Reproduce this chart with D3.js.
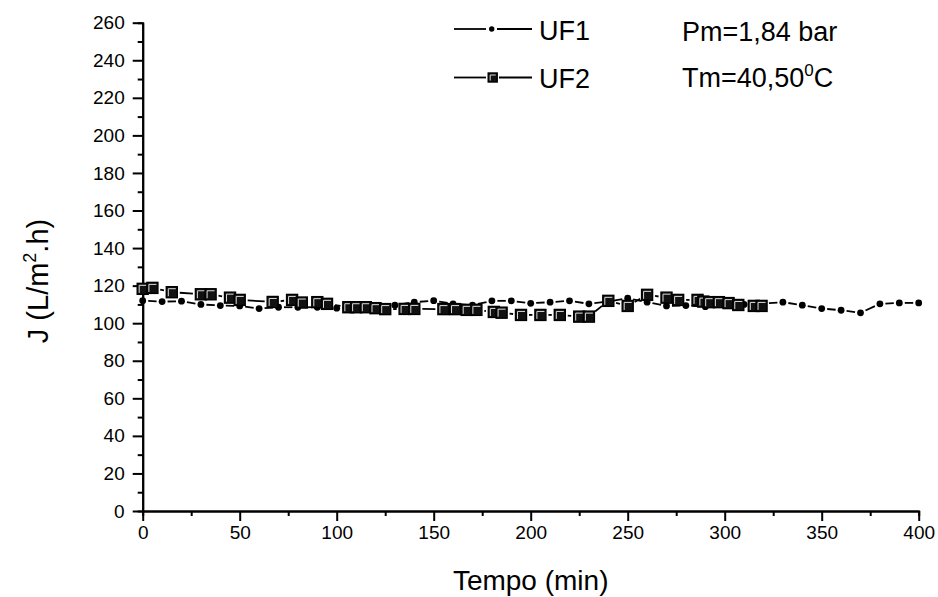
<!DOCTYPE html>
<html>
<head>
<meta charset="utf-8">
<script src="https://cdn.jsdelivr.net/npm/d3@7"></script>
<style>
    body { margin: 0; background: #fff; }
    text { font-family: "Liberation Sans", Arial, sans-serif; fill: #000; }
</style>
</head>
<body>
<svg id="graph"></svg>
<script>
// data
const uf1Time = [0, 10, 20, 30, 40, 50, 60, 70, 80, 90, 100, 110, 120, 130, 140, 150, 160, 170, 180, 190,
    200, 210, 220, 230, 240, 250, 260, 270, 280, 290, 300, 310, 320, 330, 340, 350, 360, 370, 380, 390, 400];
const uf1Flux = [112, 111.5, 111.7, 110, 109.4, 109.2, 107.8, 108.5, 108.5, 108.5, 108, 108.5, 109, 109.6, 111.2, 112, 110.3, 109.6, 111.9, 111.9,
    110.6, 111.2, 111.9, 110.3, 111.5, 113.3, 111.2, 109.2, 109.4, 108.8, 109.5, 110, 110.5, 111.2, 109.6, 107.8, 106.9, 105.5, 110.3, 110.8, 110.8];

const uf2Time = [0, 5, 15, 30, 35, 45, 50, 67, 77, 82, 90, 95, 106, 110, 115, 120, 125, 135, 140, 155, 161, 167, 172, 181, 185,
    195, 205, 215, 225, 230, 240, 250, 260, 270, 276, 286, 289, 292, 297, 302, 307, 315, 319];
const uf2Flux = [118.3, 118.8, 116.5, 115.4, 115.4, 113.6, 112.4, 111.3, 112.4, 111, 111.2, 110.3, 108.5, 108.5, 108.5, 108, 107.5, 107.6, 107.6, 107.5, 107.5, 107.1, 107.1, 106, 105.6,
    104.4, 104.4, 104.4, 103.5, 103.5, 111.9, 109.2, 115.1, 113.6, 112.4, 112.4, 111.5, 111.2, 111.2, 110.7, 109.7, 109.2, 109.2];

const xTicks = [0, 50, 100, 150, 200, 250, 300, 350, 400];
const yTicks = [0, 20, 40, 60, 80, 100, 120, 140, 160, 180, 200, 220, 240, 260];

const props = {
    width: 938, height: 597,
    left: 142.7, right: 918.7, top: 22.7, bottom: 511
};

let graph, xScale, yScale;

function initGraph() {
    graph = d3.select('#graph')
        .attr('width', props.width)
        .attr('height', props.height);
    xScale = d3.scaleLinear().domain([0, 400]).range([props.left, props.right]);
    yScale = d3.scaleLinear().domain([0, 260]).range([props.bottom, props.top]);
}

function styleAxis(g) {
    g.select('.domain').attr('stroke-width', 2).attr('stroke', '#000');
    g.selectAll('.tick line').attr('stroke-width', 2).attr('stroke', '#000');
    g.selectAll('.tick text').style('font-size', '19px')
        .style('font-family', '"Liberation Sans", Arial, sans-serif');
}

function appendAxes() {
    // minor ticks first
    graph.append('g')
        .attr('transform', 'translate(0,' + props.bottom + ')')
        .call(d3.axisBottom(xScale).tickValues(d3.range(25, 400, 50)).tickSize(5).tickFormat(''))
        .call(styleAxis);
    graph.append('g')
        .attr('transform', 'translate(' + props.left + ',0)')
        .call(d3.axisLeft(yScale).tickValues(d3.range(10, 260, 20)).tickSize(5).tickFormat(''))
        .call(styleAxis);

    graph.append('g')
        .attr('transform', 'translate(0,' + props.bottom + ')')
        .call(d3.axisBottom(xScale).tickValues(xTicks).tickSize(10).tickPadding(5).tickSizeOuter(0))
        .call(styleAxis);
    graph.append('g')
        .attr('transform', 'translate(' + props.left + ',0)')
        .call(d3.axisLeft(yScale).tickValues(yTicks).tickSize(10).tickPadding(8).tickSizeOuter(0))
        .call(styleAxis);
}

function appendLabels() {
    graph.append('text')
        .attr('text-anchor', 'middle')
        .attr('x', (props.left + props.right) / 2)
        .attr('y', 590)
        .style('font-size', '28px')
        .text('Tempo (min)');

    const yl = graph.append('text')
        .attr('text-anchor', 'middle')
        .attr('transform', 'translate(48,281) rotate(-90)')
        .style('font-size', '29px');
    yl.append('tspan').text('J (L/m');
    yl.append('tspan').attr('dy', -12).style('font-size', '18px').text('2');
    yl.append('tspan').attr('dy', 12).text('.h)');
}

// draw a polyline with gaps next to each marker
function drawSeries(xs, ys, gap) {
    const pts = xs.map(function(t, i) { return [xScale(t), yScale(ys[i])]; });
    for (let i = 1; i < pts.length; i++) {
        const a = pts[i - 1], b = pts[i];
        const dx = b[0] - a[0], dy = b[1] - a[1];
        const len = Math.sqrt(dx * dx + dy * dy);
        if (len <= 2 * gap + 1) continue;
        const ux = dx / len, uy = dy / len;
        graph.append('line')
            .attr('x1', a[0] + ux * gap).attr('y1', a[1] + uy * gap)
            .attr('x2', b[0] - ux * gap).attr('y2', b[1] - uy * gap)
            .attr('stroke', '#000')
            .attr('stroke-width', 1.8);
    }
    return pts;
}

function circleMarker(x, y, r) {
    graph.append('circle')
        .attr('cx', x).attr('cy', y).attr('r', r)
        .attr('fill', '#000');
}

function squareMarker(x, y, s) {
    graph.append('rect')
        .attr('x', x - s / 2).attr('y', y - s / 2)
        .attr('width', s).attr('height', s)
        .attr('fill', '#111').attr('stroke', '#000').attr('stroke-width', 1.4);
    graph.append('path')
        .attr('d', 'M' + (x - s / 2 + 2) + ',' + (y + s / 2 - 1.5)
            + 'V' + (y - s / 2 + 2) + 'H' + (x + s / 2 - 1.5))
        .attr('fill', 'none')
        .attr('stroke', '#ddd')
        .attr('stroke-width', 1);
}

function initLines() {
    const p2 = drawSeries(uf2Time, uf2Flux, 8);
    const p1 = drawSeries(uf1Time, uf1Flux, 5.5);
    p1.forEach(function(p) { circleMarker(p[0], p[1], 3.4); });
    p2.forEach(function(p) { squareMarker(p[0], p[1], 11); });
}

function appendLegend() {
    // UF1
    graph.append('line').attr('x1', 454).attr('x2', 486).attr('y1', 29).attr('y2', 29)
        .attr('stroke', '#000').attr('stroke-width', 1.8);
    graph.append('line').attr('x1', 497).attr('x2', 532).attr('y1', 29).attr('y2', 29)
        .attr('stroke', '#000').attr('stroke-width', 1.8);
    circleMarker(491.7, 29, 2.7);
    graph.append('text').attr('x', 539).attr('y', 40).style('font-size', '27px').text('UF1');
    graph.append('text').attr('x', 682).attr('y', 41).style('font-size', '27px').text('Pm=1,84 bar');

    // UF2
    graph.append('line').attr('x1', 454).attr('x2', 486).attr('y1', 77.5).attr('y2', 77.5)
        .attr('stroke', '#000').attr('stroke-width', 1.8);
    graph.append('line').attr('x1', 499).attr('x2', 532).attr('y1', 77.5).attr('y2', 77.5)
        .attr('stroke', '#000').attr('stroke-width', 1.8);
    squareMarker(492.7, 77.5, 9);
    graph.append('text').attr('x', 539).attr('y', 88).style('font-size', '27px').text('UF2');
    const tm = graph.append('text').attr('x', 682).attr('y', 87).style('font-size', '27px');
    tm.append('tspan').text('Tm=40,50');
    tm.append('tspan').attr('dy', -11).style('font-size', '17px').text('0');
    tm.append('tspan').attr('dy', 11).text('C');
}

initGraph();
appendAxes();
appendLabels();
initLines();
appendLegend();
</script>
</body>
</html>
